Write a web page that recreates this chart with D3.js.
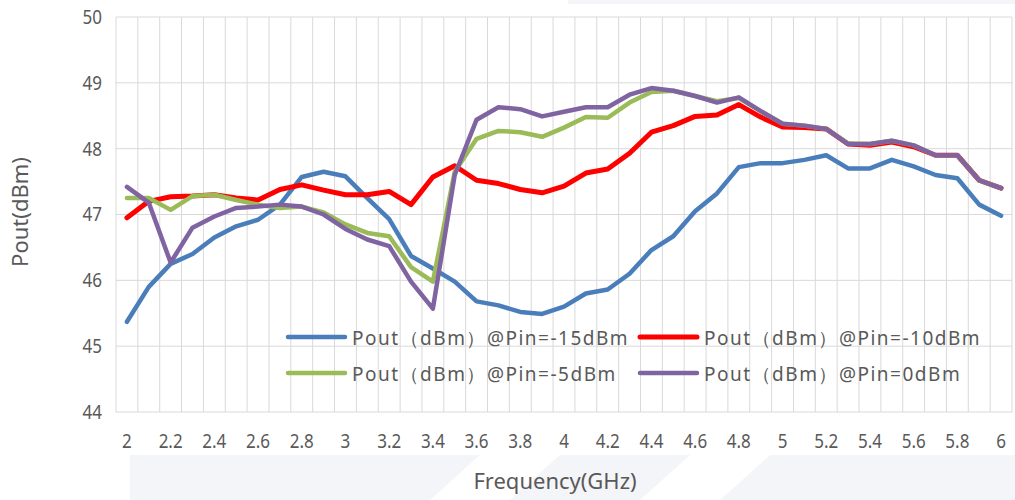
<!DOCTYPE html>
<html>
<head>
<meta charset="utf-8">
<script src="https://cdn.jsdelivr.net/npm/d3@7"></script>
<style>
  body { margin:0; background:#fff; }
  svg { display:block; }
</style>
</head>
<body>
<div class="svg-container"></div>
<script>
//frequency categories (GHz)
const freq = ["2","2.1","2.2","2.3","2.4","2.5","2.6","2.7","2.8","2.9",
              "3","3.1","3.2","3.3","3.4","3.5","3.6","3.7","3.8","3.9",
              "4","4.1","4.2","4.3","4.4","4.5","4.6","4.7","4.8","4.9",
              "5","5.1","5.2","5.3","5.4","5.5","5.6","5.7","5.8","5.9","6"];

//Pout values (dBm) per input power
const pinM15 = [45.37,45.9,46.25,46.4,46.65,46.82,46.92,47.15,47.57,47.65,
                47.58,47.25,46.93,46.37,46.18,45.98,45.68,45.62,45.52,45.49,
                45.6,45.8,45.86,46.1,46.46,46.67,47.05,47.32,47.72,47.78,
                47.78,47.83,47.9,47.7,47.7,47.83,47.73,47.6,47.55,47.15,46.98];
const pinM10 = [46.95,47.2,47.27,47.28,47.3,47.25,47.22,47.38,47.45,47.37,
                47.3,47.3,47.35,47.15,47.57,47.74,47.52,47.47,47.38,47.33,
                47.43,47.63,47.69,47.93,48.25,48.35,48.49,48.51,48.67,48.48,
                48.33,48.32,48.3,48.07,48.05,48.1,48.03,47.9,47.9,47.52,47.4];
const pinM5  = [47.25,47.25,47.07,47.28,47.3,47.22,47.15,47.1,47.12,47.03,
                46.85,46.72,46.67,46.2,45.98,47.65,48.15,48.27,48.25,48.18,
                48.32,48.48,48.47,48.7,48.86,48.88,48.8,48.72,48.77,48.57,
                48.38,48.35,48.3,48.08,48.07,48.12,48.05,47.9,47.9,47.52,47.4];
const pin0   = [47.42,47.18,46.27,46.8,46.97,47.1,47.12,47.15,47.12,47.0,
                46.78,46.62,46.52,45.98,45.57,47.6,48.44,48.63,48.6,48.49,
                48.56,48.63,48.63,48.82,48.92,48.88,48.8,48.7,48.78,48.57,
                48.38,48.35,48.3,48.07,48.07,48.12,48.05,47.9,47.9,47.52,47.4];

const seriesNames = ["Pout（dBm）@Pin=-15dBm","Pout（dBm）@Pin=-10dBm",
                     "Pout（dBm）@Pin=-5dBm","Pout（dBm）@Pin=0dBm"];
const yTicks = [44,45,46,47,48,49,50];
const xLabels = freq.filter((d,i) => i % 2 === 0);

const series = [
    {name: seriesNames[0], values: pinM15, color: "#4a7ebb", w: 4.5},
    {name: seriesNames[1], values: pinM10, color: "#ff0000", w: 5},
    {name: seriesNames[2], values: pinM5,  color: "#9bbb59", w: 4.5},
    {name: seriesNames[3], values: pin0,   color: "#8064a2", w: 4.5}
];

//dimensions
const W = 1015, H = 500;
const plot = { left:116, right:1012, top:17, bottom:412 };
const font = "'Noto Sans', 'Open Sans', sans-serif";

const svg = d3.select(".svg-container")
    .append("svg")
    .attr("width", W)
    .attr("height", H);

//faint watermark shapes in the background
const marks = [
    [[130,455],[480,455],[430,500],[130,500]],
    [[560,455],[690,455],[640,500],[510,500]],
    [[770,455],[1015,455],[1015,500],[720,500]],
    [[568,0],[1015,0],[1015,4],[568,4]]
];
svg.selectAll(".wm")
    .data(marks)
    .join("polygon")
    .attr("class","wm")
    .attr("points", d => d.map(p => p.join(",")).join(" "))
    .attr("fill", "#f4f5f8");

//scales
const x = d3.scaleBand()
    .domain(freq)
    .range([plot.left, plot.right])
    .paddingInner(0).paddingOuter(0);

const y = d3.scaleLinear()
    .domain([44, 50])
    .range([plot.bottom, plot.top]);

const cx = d => x(d) + x.bandwidth()/2;

//vertical gridlines at category boundaries
const bounds = freq.map(d => x(d)).concat([plot.right]);
svg.selectAll(".vgrid")
    .data(bounds)
    .join("line")
    .attr("class","vgrid")
    .attr("x1", d => d).attr("x2", d => d)
    .attr("y1", plot.top).attr("y2", plot.bottom)
    .attr("stroke", "#d9d9d9")
    .attr("stroke-width", 1);

//horizontal gridlines
svg.selectAll(".hgrid")
    .data(yTicks)
    .join("line")
    .attr("class","hgrid")
    .attr("x1", plot.left).attr("x2", plot.right)
    .attr("y1", d => y(d)).attr("y2", d => y(d))
    .attr("stroke", "#d9d9d9")
    .attr("stroke-width", 1);

//y axis labels (narrow digits like the original)
svg.append("g")
    .attr("transform", `translate(${plot.left},0)`)
    .call(d3.axisLeft(y).tickValues(yTicks).tickFormat(d3.format("d")).tickSize(0).tickPadding(16.5))
    .call(g => g.select(".domain").remove())
    .selectAll("text")
    .attr("fill", "#595959")
    .attr("transform", "scale(0.85,1)")
    .style("font-family", font)
    .style("font-size", "20px");

//x axis labels
svg.append("g")
    .attr("transform", `translate(0,${plot.bottom})`)
    .call(d3.axisBottom(x).tickValues(xLabels).tickSize(0).tickPadding(22))
    .call(g => g.select(".domain").remove())
    .selectAll("text")
    .attr("fill", "#595959")
    .attr("transform", "scale(0.85,1)")
    .style("font-family", font)
    .style("font-size", "20px");

//lines
const line = d3.line()
    .x((d,i) => cx(freq[i]))
    .y(d => y(d));

svg.selectAll(".series")
    .data(series)
    .join("path")
    .attr("class","series")
    .attr("d", d => line(d.values))
    .attr("fill","none")
    .attr("stroke", d => d.color)
    .attr("stroke-width", d => d.w)
    .attr("stroke-linejoin","round")
    .attr("stroke-linecap","round");

//legend (2 x 2)
const legPos = [[288,337],[640,337],[288,373],[640,373]];
const leg = svg.selectAll(".leg")
    .data(series)
    .join("g")
    .attr("class","leg")
    .attr("transform", (d,i) => `translate(${legPos[i][0]},${legPos[i][1]})`);

leg.append("line")
    .attr("x1", 0).attr("x2", 57)
    .attr("stroke", d => d.color)
    .attr("stroke-width", d => d.w)
    .attr("stroke-linecap","round");

leg.append("text")
    .attr("x", 64)
    .attr("y", 8)
    .attr("fill", "#595959")
    .style("font-family", font)
    .style("font-size", "19px")
    .style("letter-spacing", "1.5px")
    .text(d => d.name);

//axis titles
svg.append("text")
    .attr("x", 555)
    .attr("y", 489)
    .attr("text-anchor","middle")
    .attr("fill","#595959")
    .style("font-family", font)
    .style("font-size","22px")
    .text("Frequency(GHz)");

svg.append("text")
    .attr("transform", "translate(28,212) rotate(-90)")
    .attr("text-anchor","middle")
    .attr("fill","#595959")
    .style("font-family", font)
    .style("font-size","22px")
    .text("Pout(dBm)");
</script>
</body>
</html>
